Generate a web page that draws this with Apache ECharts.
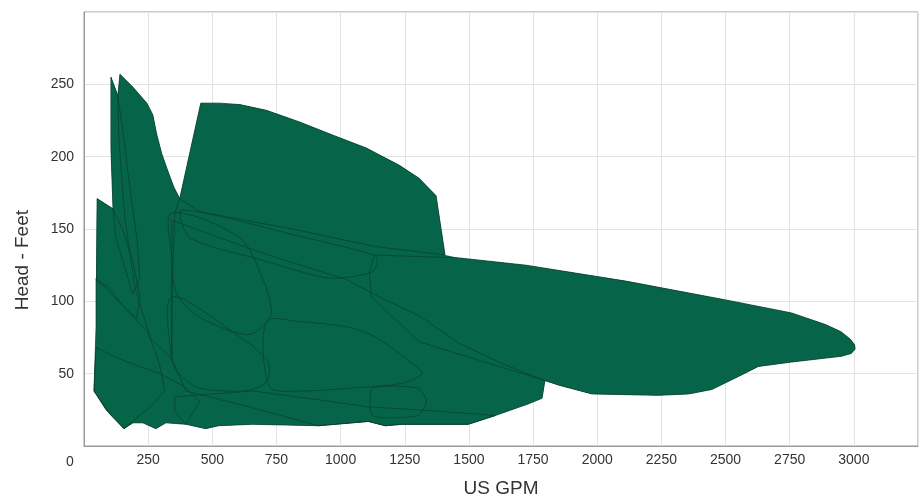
<!DOCTYPE html>
<html><head><meta charset="utf-8">
<script src="https://cdn.jsdelivr.net/npm/echarts@6/dist/echarts.min.js"></script>
<style>html,body{margin:0;padding:0;background:#fff}#c{width:921px;height:503px}</style>
</head><body><div id="c"></div>
<script>
// Tick values
const xTicks = [0, 250, 500, 750, 1000, 1250, 1500, 1750, 2000, 2250, 2500, 2750, 3000];
const yTicks = [50, 100, 150, 200, 250];

// Pump coverage regions: [US GPM, Head ft]
const envelope = [[39,38],[47,68],[47,116],[51,171],[113,164],[105,206],[105,255],[132,243],[140,257],[191,248],[245,237],[268,229],[284,215],[303,202],[327,190],[350,179],[373,171],[455,237],[607,236],[711,232],[840,224],[968,215],[1100,206],[1229,194],[1306,185],[1372,173],[1407,132],[1462,130],[1722,125],[2111,114],[2500,101],[2757,92],[2889,84],[2950,79],[2985,74],[3003,70],[3005,67],[2990,64],[2951,62],[2757,58],[2628,55],[2550,48],[2446,39],[2356,36],[2239,35],[1979,36],[1851,42],[1796,45],[1785,33],[1730,29],[1602,21],[1497,15],[1240,15],[1174,14],[1108,17],[914,14],[657,15],[525,14],[474,12],[397,15],[319,16],[280,12],[229,16],[191,16],[156,12],[124,18],[86,25]];
const pumpSpike1 = [[105,255],[132,242],[156,212],[179,178],[206,144],[218,116],[190,105],[124,144],[113,164],[105,205]];
const pumpSpike2 = [[140,257],[191,248],[245,237],[268,229],[284,215],[303,202],[327,190],[350,179],[373,171],[354,161],[342,103],[342,60],[257,75],[198,110],[159,158],[136,212],[132,242]];
const pumpD = [[51,171],[113,164],[156,147],[191,127],[218,103],[205,88],[150,97],[95,110],[49,114]];
const pumpE = [[47,116],[140,99],[249,79],[295,56],[315,38],[257,27],[156,12],[124,18],[86,25],[39,38],[47,82]];
const pumpF = [[47,68],[140,60],[295,50],[393,41],[451,31],[397,15],[319,16],[280,12],[229,16],[191,16],[156,12],[101,22],[39,38]];
const pumpB = [[373,171],[455,237],[530,237],[607,236],[711,232],[840,224],[968,215],[1100,206],[1229,194],[1306,185],[1372,173],[1407,132],[1131,138],[840,149],[451,162]];
const pumpM = [[381,163],[840,145],[1131,132],[1143,127],[1120,120],[956,116],[684,129],[412,144]];
const pumpC = [[1131,132],[1300,131],[1462,130],[1722,125],[2111,114],[2500,101],[2757,92],[2889,84],[2950,79],[2985,74],[3003,70],[3005,67],[2990,64],[2951,62],[2757,58],[2628,55],[2550,48],[2446,39],[2356,36],[2239,35],[1979,36],[1851,42],[1785,46],[1617,55],[1306,72],[1120,103],[1112,120]];
const pumpG = [[342,161],[607,144],[696,116],[731,94],[715,86],[638,77],[451,89],[362,105],[342,130]];
const pumpH = [[342,103],[595,77],[711,60],[723,50],[696,42],[618,38],[451,40],[380,48],[342,60]];
const pumpI = [[711,86],[840,86],[1034,82],[1139,75],[1279,57],[1318,50],[1229,43],[1034,40],[840,38],[723,41]];
const pumpJ = [[342,156],[684,134],[1023,115],[1151,103],[1306,90],[1462,71],[1617,58],[1796,45],[1785,33],[1730,29],[1602,21],[1497,15],[1240,15],[1174,14],[1108,17],[914,14],[645,27],[397,38],[342,60]];
const pumpK = [[354,34],[657,38],[914,32],[1108,27],[1302,25],[1540,22],[1602,21],[1497,15],[1240,15],[1174,14],[1108,17],[914,14],[657,15],[525,14],[474,12],[397,15],[354,24]];
const pumpL = [[1124,40],[1302,40],[1335,31],[1302,21],[1124,21]];

const regions = [pumpB, pumpC, pumpM, pumpJ, pumpG, pumpI, pumpH, pumpK, pumpL, pumpSpike2, pumpSpike1, pumpD, pumpE, pumpF];
const smoothing = [0, 0, 0.25, 0, 0.3, 0.3, 0.3, 0, 0.2, 0, 0, 0, 0, 0];

const FILL = '#066548';
const LINE = '#0a3f2d';
const FONT = 'Liberation Sans, Arial, sans-serif';

function polyRender(list, smooth, withFill, withStroke) {
  return function (params, api) {
    const i = api.value(2);
    const pts = list[i].map(p => api.coord(p));
    return {
      type: 'polygon',
      shape: { points: pts, smooth: smooth[i] },
      style: {
        fill: withFill ? FILL : 'none',
        stroke: withStroke ? LINE : null,
        lineWidth: withStroke ? 0.9 : 0,
        opacity: withStroke ? 0.85 : 1
      }
    };
  };
}

const chart = echarts.init(document.getElementById('c'), null, { renderer: 'canvas' });
chart.setOption({
  animation: false,
  backgroundColor: '#fff',
  grid: { left: 84, right: 1, top: 12, bottom: 53, show: true, borderColor: '#9a9a9a', borderWidth: 1 },
  xAxis: {
    type: 'value', min: 0, max: 3250, interval: 250,
    name: 'US GPM', nameLocation: 'middle', nameGap: 33,
    nameTextStyle: { fontSize: 19, color: '#333', fontFamily: FONT },
    axisLine: { show: true, lineStyle: { color: '#9a9a9a' } },
    axisTick: { show: false },
    axisLabel: {
      margin: 7, fontSize: 14, color: '#333', fontFamily: FONT,
      formatter: v => (xTicks.indexOf(v) > 0 ? String(v) : '')
    },
    splitLine: { show: true, lineStyle: { color: '#e2e4e4', width: 1 } }
  },
  yAxis: {
    type: 'value', min: 0, max: 300, interval: 50,
    axisLine: { show: true, lineStyle: { color: '#9a9a9a' } },
    axisTick: { show: false },
    axisLabel: {
      margin: 10, fontSize: 14, color: '#333', fontFamily: FONT,
      formatter: v => (yTicks.indexOf(v) >= 0 ? String(v) : '')
    },
    splitLine: { show: true, lineStyle: { color: '#e2e4e4', width: 1 } }
  },
  graphic: [
    { type: 'text', left: 66, top: 455, style: { text: '0', fontSize: 14, fill: '#333', fontFamily: FONT } },
    { type: 'text', left: 13, top: 210, rotation: Math.PI / 2,
      style: { text: 'Head - Feet', fontSize: 19, fill: '#333', fontFamily: FONT } }
  ],
  series: [
    {
      type: 'custom', coordinateSystem: 'cartesian2d', silent: true, clip: true,
      encode: { x: 0, y: 1 },
      data: [[0, 0, 0]],
      renderItem: polyRender([envelope], [0], true, false)
    },
    {
      type: 'custom', coordinateSystem: 'cartesian2d', silent: true, clip: true,
      encode: { x: 0, y: 1 },
      data: regions.map((r, i) => [0, 0, i]),
      renderItem: polyRender(regions, smoothing, true, false)
    },
    {
      type: 'custom', coordinateSystem: 'cartesian2d', silent: true, clip: true,
      encode: { x: 0, y: 1 },
      data: regions.map((r, i) => [0, 0, i]),
      renderItem: polyRender(regions, smoothing, false, true)
    }
  ]
});
</script>
</body></html>
